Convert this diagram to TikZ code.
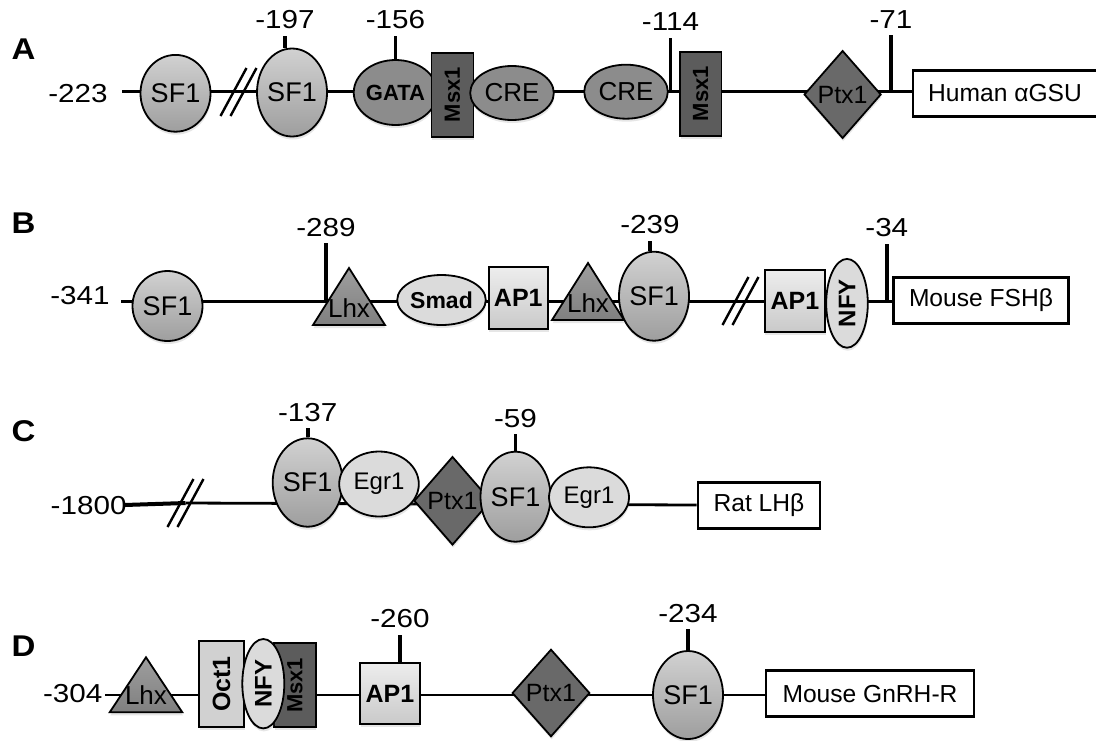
\documentclass[tikz,border=0pt]{standalone}
\usepackage{fontspec}
\setmainfont{Liberation Sans}
\newfontfamily\numfont{Liberation Sans}[FakeStretch=1.14]
\newfontfamily\panelfont{Liberation Sans Bold}[FakeStretch=1.1]
\usepackage{tikz}
\usetikzlibrary{shapes.geometric, shadows, backgrounds}
\definecolor{sftop}{gray}{0.82}
\definecolor{sfbot}{gray}{0.62}
\definecolor{midgray}{gray}{0.55}
\definecolor{msxgray}{gray}{0.36}
\definecolor{ptxgray}{gray}{0.41}
\definecolor{lhxtop}{gray}{0.62}
\definecolor{lhxbot}{gray}{0.50}
\definecolor{palegray}{gray}{0.86}
\definecolor{aptop}{gray}{0.93}
\definecolor{apbot}{gray}{0.79}
\definecolor{octgray}{gray}{0.82}
\tikzstyle{dna} = [line width=1.4pt]
\tikzstyle{tick} = [line width=1.8pt]
\tikzstyle{brk} = [line width=1.2pt]
\tikzstyle{fac} = [draw, line width=0.9pt, inner sep=0pt, drop shadow={opacity=0.2,shadow xshift=0.3pt,shadow yshift=-1.5pt}]
\tikzstyle{sfone} = [fac, ellipse, top color=sftop, bottom color=sfbot, font=\fontsize{13.5}{15}\selectfont]
\tikzstyle{cre} = [fac, ellipse, fill=midgray, font=\fontsize{13}{15}\selectfont]
\tikzstyle{msx} = [fac, rectangle, fill=msxgray, font=\bfseries\fontsize{11}{13}\selectfont]
\tikzstyle{ptx} = [fac, diamond, fill=ptxgray, font=\fontsize{12.5}{14}\selectfont]
\tikzstyle{lhxshape} = [draw, line width=0.9pt, top color=lhxtop, bottom color=lhxbot, drop shadow={opacity=0.2,shadow xshift=0.3pt,shadow yshift=-1.5pt}]
\tikzstyle{lhxtext} = [inner sep=0pt, font=\fontsize{13}{15}\selectfont]
\tikzstyle{pale} = [fac, ellipse, fill=palegray]
\tikzstyle{apone} = [fac, rectangle, top color=aptop, bottom color=apbot, font=\bfseries\fontsize{12.5}{14}\selectfont]
\tikzstyle{gene} = [draw, line width=1.4pt, fill=white, rectangle, minimum height=23pt, inner sep=0pt, font=\fontsize{12.3}{14}\selectfont]
\tikzstyle{num} = [inner sep=2.5pt, font=\numfont\fontsize{13}{15}\selectfont]
\tikzstyle{panel} = [inner sep=0pt, font=\panelfont\fontsize{15}{17}\selectfont]
\newcommand{\brkmark}[1]{\draw[brk] (#1) ++(-18,24) -- ++(26,-48) (#1) ++(-8,24) -- ++(26,-48);}
\newcommand{\vlabel}[1]{\rotatebox{90}{#1}}
% triangle with its label: name, base centre, half width, height
\newcommand{\lhxtri}[4]{%
    \path[lhxshape] (#2) ++(-#3,0) -- ++(2*#3,0) -- ++(-#3,-#4) -- cycle;
    \path (#2) ++(0,-17) node[lhxtext] (#1) {Lhx};}

\begin{document}
\begin{tikzpicture}[x=0.5pt,y=-0.5pt]
    \useasboundingbox (0,0) rectangle (1096,740);
    % A: human alpha GSU
    \node[panel] (pA) at (23.5,49) {A};
    \node[num] (nA0) at (78,93.3) {-223};
    \coordinate (a0) at (122,91.5);
    \coordinate (abr) at (238.5,92);
    \node[sfone, minimum width=33.8pt, minimum height=38.4pt] (sfA1) at (175.5,93.3) {SF1};
    \brkmark{abr}
    \node[sfone, minimum width=34pt, minimum height=44pt] (sfA2) at (292,92.5) {SF1};
    \node[cre, minimum width=32.5pt, minimum height=32.5pt, font=\bfseries\fontsize{11}{13}\selectfont] (gataA) at (395.5,92.5) {GATA};
    \node[msx, minimum width=21pt, minimum height=42pt] (msxA1) at (452.5,94.7) {\vlabel{Msx1}};
    \node[cre, minimum width=41.8pt, minimum height=27pt] (creA1) at (512,93) {CRE};
    \node[cre, minimum width=41.8pt, minimum height=27pt] (creA2) at (626,91.7) {CRE};
    \node[msx, minimum width=20.8pt, minimum height=42.2pt] (msxA2) at (700.7,93.8) {\vlabel{Msx1}};
    \node[ptx, minimum width=38.5pt, minimum height=43.9pt] (ptxA) at (842.6,94.5) {Ptx1};
    \node[gene, minimum width=92pt] (hA) at (1005,93.4) {Human αGSU};
    \coordinate (t114) at (670.5,91.5);
    \coordinate (t71) at (891,91.5);
    \draw[tick] ([xshift=-3.5pt]sfA2.north) -- ++(0,-11.6) node[num,above] (n197) {-197};
    \draw[tick] (gataA.north) -- ++(0,-23.3) node[num,above] (n156) {-156};
    \draw[tick] (t114) -- ++(0,-54) node[num,above] (n114) {-114};
    \draw[tick] (t71) -- ++(0,-56.5) node[num,above] (n71) {-71};

    % B: mouse FSH beta
    \node[panel] (pB) at (23.5,223) {B};
    \node[num] (nB0) at (80,296) {-341};
    \coordinate (b0) at (121,301.7);
    \coordinate (bbr) at (740.5,301);
    \node[sfone, minimum width=32.5pt, minimum height=35pt] (sfB1) at (167.5,306) {SF1};
    \lhxtri{lhxB1}{349,325}{36}{57}
    \node[pale, minimum width=37.5pt, minimum height=25pt, font=\bfseries\fontsize{11.5}{13}\selectfont] (smadB) at (441.5,300) {Smad};
    \node[apone, minimum width=29.7pt, minimum height=31pt] (apB1) at (518.3,298.3) {AP1};
    \lhxtri{lhxB2}{588,320}{36}{57}
    \node[sfone, minimum width=33pt, minimum height=44.5pt] (sfB2) at (654,296.2) {SF1};
    \brkmark{bbr}
    \node[apone, minimum width=30.3pt, minimum height=31.2pt] (apB2) at (795,301) {AP1};
    \node[pale, minimum width=20.8pt, minimum height=44.4pt, font=\bfseries\fontsize{12}{14}\selectfont] (nfyB) at (847,303.3) {\vlabel{NFY}};
    \node[gene, minimum width=87.5pt] (hB) at (981,300.3) {Mouse FSHβ};
    \coordinate (t289) at (326,301.7);
    \coordinate (t34) at (886.8,301.7);
    \draw[tick] (t289) -- ++(0,-58.4) node[num,above] (n289) {-289};
    \draw[tick] ([xshift=-2pt]sfB2.north) -- ++(0,-10) node[num,above] (n239) {-239};
    \draw[tick] (t34) -- ++(0,-57.7) node[num,above] (n34) {-34};

    % C: rat LH beta
    \node[panel] (pC) at (23.5,431.5) {C};
    \node[num] (nC0) at (88.6,506) {-1800};
    \coordinate (c0) at (124.5,505);
    \coordinate (cbr) at (185.5,503);
    \brkmark{cbr}
    \node[sfone, minimum width=32.5pt, minimum height=44.2pt] (sfC1) at (307.7,482.5) {SF1};
    \node[pale, minimum width=39.8pt, minimum height=32.5pt, font=\fontsize{12}{14}\selectfont] (egrC1) at (379,484) {Egr1};
    \node[ptx, minimum width=38.5pt, minimum height=44.2pt] (ptxC) at (452.5,500.8) {Ptx1};
    \node[sfone, minimum width=34pt, minimum height=45pt] (sfC2) at (515.5,496.7) {SF1};
    \node[pale, minimum width=40pt, minimum height=30pt, font=\fontsize{12}{14}\selectfont] (egrC2) at (589,497.3) {Egr1};
    \node[gene, minimum width=61pt] (hC) at (759,505.5) {Rat LHβ};
    \draw[tick] (sfC1.north) -- ++(0,-9) node[num,above] (n137) {-137};
    \draw[tick] (sfC2.north) -- ++(0,-16.7) node[num,above] (n59) {-59};

    % D: mouse GnRH receptor
    \node[panel] (pD) at (23.5,646) {D};
    \node[num] (nD0) at (72.7,694) {-304};
    \coordinate (d0) at (105,695);
    \lhxtri{lhxD}{146,712.3}{36.3}{55}
    \node[fac, rectangle, fill=octgray, minimum width=22.5pt, minimum height=43.2pt, font=\bfseries\fontsize{12.5}{14}\selectfont] (octD) at (221.5,684) {\vlabel{Oct1}};
    \node[msx, minimum width=20.8pt, minimum height=42pt] (msxD) at (295,685.3) {\vlabel{Msx1}};
    \node[pale, minimum width=21pt, minimum height=44.7pt, font=\bfseries\fontsize{12}{14}\selectfont] (nfyD) at (263.3,683.7) {\vlabel{NFY}};
    \node[apone, minimum width=29.7pt, minimum height=30.8pt] (apD) at (390,693.5) {AP1};
    \node[ptx, minimum width=38.8pt, minimum height=43.7pt] (ptxD) at (551,693) {Ptx1};
    \node[sfone, minimum width=32.5pt, minimum height=44pt] (sfD) at (688,695) {SF1};
    \node[gene, minimum width=104pt] (hD) at (870,693.8) {Mouse GnRH-R};
    \draw[tick] ([xshift=5pt]apD.north) -- ++(0,-27) node[num,above] (n260) {-260};
    \draw[tick] (sfD.north) -- ++(0,-20.7) node[num,above] (n234) {-234};

    % promoter backbones
    \begin{scope}[on background layer]
    \draw[dna] (a0) -- (a0 -| hA.west);
    \draw[dna] (b0) -- (b0 -| hB.west);
    \draw[dna, line width=2pt] (c0) -- (cbr);
    \draw[dna] (cbr) -- (c0 -| hC.west);
    \draw[dna] (d0) -- (d0 -| hD.west);
    \end{scope}
\end{tikzpicture}
\end{document}
